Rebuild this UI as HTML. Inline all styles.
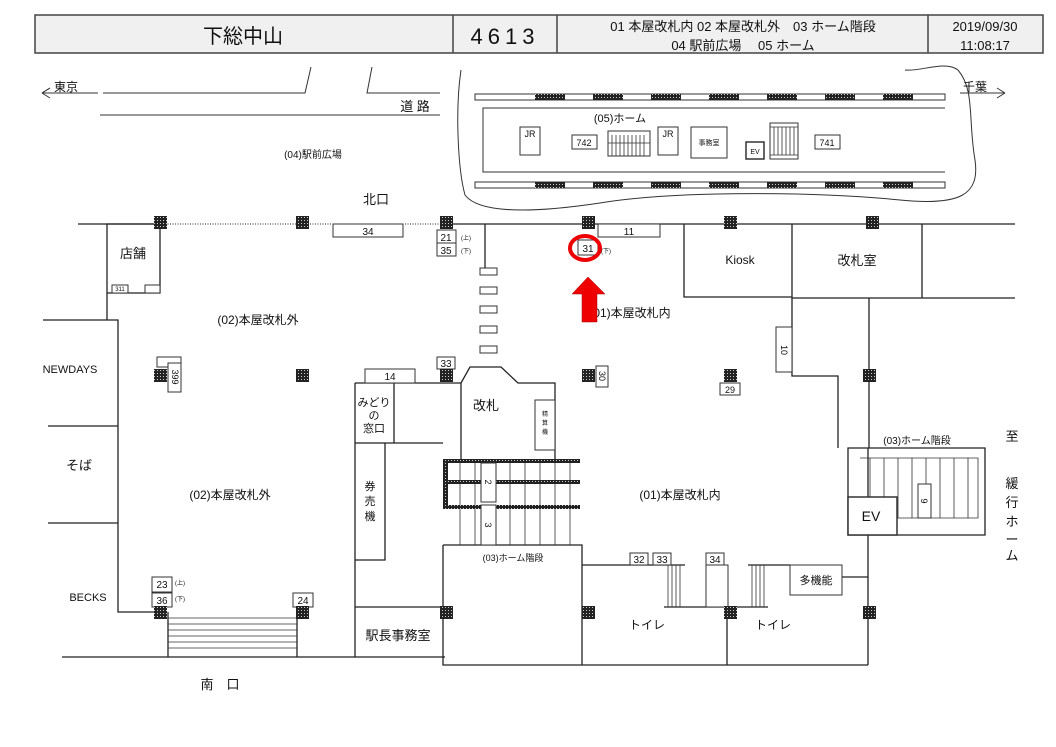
<!DOCTYPE html>
<html><head><meta charset="utf-8"><style>
body{margin:0;background:#fff}
svg{display:block;font-family:"Liberation Sans","Noto Sans CJK JP",sans-serif}
</style></head><body>
<svg width="1056" height="747" viewBox="0 0 1056 747" xmlns="http://www.w3.org/2000/svg">
<defs>
<pattern id="h" width="3" height="3" patternUnits="userSpaceOnUse"><rect width="3" height="3" fill="#222"/><rect x="1" y="1" width="1" height="1" fill="#ccc"/></pattern>
</defs>
<!-- header -->
<rect x="35" y="15" width="1008" height="38" fill="#f0f0f0" stroke="#444" stroke-width="1.5"/>
<g stroke="#444" stroke-width="1.5"><line x1="453" y1="15" x2="453" y2="53"/><line x1="557" y1="15" x2="557" y2="53"/><line x1="928" y1="15" x2="928" y2="53"/></g>
<g fill="#111">
<text x="243" y="43" font-size="20" text-anchor="middle">下総中山</text>
<text x="505" y="44" font-size="22" text-anchor="middle" letter-spacing="5">4613</text>
<text x="743" y="31" font-size="13" text-anchor="middle">01 本屋改札内 02 本屋改札外　03 ホーム階段</text>
<text x="743" y="50" font-size="13" text-anchor="middle">04 駅前広場　  05 ホーム</text>
<text x="985" y="31" font-size="13" text-anchor="middle">2019/09/30</text>
<text x="985" y="50" font-size="13" text-anchor="middle">11:08:17</text>
</g>
<g stroke="#333" stroke-width="1" fill="none">
<!-- roads -->
<polyline points="42,93 50,88 M42,93 50,98"/>
<path d="M42,93 L50,88 M42,93 L50,98 M42,93 L98,93"/>
<path d="M103,93 H305 L311,67 M372,67 L367,93 H440 M100,115 H440"/>
<path d="M960,93 H1005 M1005,93 L997,88 M1005,93 L997,98"/>
<!-- cloud -->
<path d="M461,70 C455,110 458,170 465,195 C480,215 540,212 600,203 C680,190 820,192 900,200 C960,206 980,195 975,160 C968,120 975,90 958,70 C945,60 920,72 905,70"/>
<!-- platform -->
<rect x="475" y="94" width="470" height="6"/><rect x="475" y="182" width="470" height="6"/>
<path d="M945,108 H483 V172 H945"/>
</g>
<g fill="url(#h)">
<rect x="535" y="94" width="30" height="6"/><rect x="593" y="94" width="30" height="6"/><rect x="651" y="94" width="30" height="6"/><rect x="709" y="94" width="30" height="6"/><rect x="767" y="94" width="30" height="6"/><rect x="825" y="94" width="30" height="6"/><rect x="883" y="94" width="30" height="6"/>
<rect x="535" y="182" width="30" height="6"/><rect x="593" y="182" width="30" height="6"/><rect x="651" y="182" width="30" height="6"/><rect x="709" y="182" width="30" height="6"/><rect x="767" y="182" width="30" height="6"/><rect x="825" y="182" width="30" height="6"/><rect x="883" y="182" width="30" height="6"/>
</g>
<g stroke="#333" fill="#fff" stroke-width="1">
<rect x="520" y="127" width="20" height="28"/><rect x="658" y="127" width="20" height="28"/>
<rect x="572" y="135" width="25" height="14"/><rect x="815" y="135" width="25" height="14"/>
<rect x="608" y="131" width="42" height="25"/>
<rect x="691" y="127" width="36" height="31"/>
<rect x="746" y="142" width="18" height="17" stroke-width="1.5"/>
<rect x="770" y="123" width="28" height="36"/>
</g>
<g stroke="#333" stroke-width="0.8"><path d="M612,135 V156 M616,135 V156 M620,135 V156 M624,135 V156 M628,135 V156 M632,135 V156 M636,135 V156 M640,135 V156 M644,135 V156 M608,143 H650 M774,127 V155 M778,127 V155 M782,127 V155 M786,127 V155 M790,127 V155 M794,127 V155 M770,127 H798 M770,155 H798"/></g>
<g font-size="9" fill="#111" text-anchor="middle">
<text x="530" y="137">JR</text><text x="668" y="137">JR</text>
<text x="584" y="146">742</text><text x="827" y="146">741</text>
<text x="709" y="145" font-size="7">事務室</text><text x="755" y="154" font-size="7">EV</text>
<text x="620" y="122" font-size="11">(05)ホーム</text>
<text x="415" y="111" font-size="13">道 路</text>
<text x="66" y="91" font-size="12">東京</text><text x="975" y="91" font-size="12">千葉</text>
<text x="313" y="158" font-size="10">(04)駅前広場</text>
<text x="376" y="204" font-size="13">北口</text>
</g>
<!-- main walls -->
<g stroke="#222" stroke-width="1.3" fill="none">
<path d="M78,224 H160 M443,224 H1015"/>
<path d="M160,224 H443" stroke-dasharray="1,1.5" stroke-width="1"/>
<path d="M107,224 V320 M107,224 H160 V293 H107 M43,320 H118 V612 H160 M48,426 H118 M48,523 H118"/>
<path d="M62,657 H445"/>
<path d="M168,612 V657 M297,612 V657"/>
<path d="M355,383 V657 M355,383 H461 M394,383 V443 M355,443 H443 M385,443 V560 H355 M355,607 H443"/>
<path d="M461,460 V383 L470,367 H501 L518,383 H555 V460"/>
<path d="M443,545 H582 V665 H443 V545 M443,665 H868 M727,590 V665 M868,665 V448"/>
<path d="M582,565 H685 M748,565 H790 M664,607 H768"/>
<path d="M684,224 V297 H792 M792,224 V298 H922 V224 M922,298 H1015"/>
<path d="M792,298 V376 H838 V448 M869,298 V448"/>
<path d="M848,448 H985 V535 H848 Z M842,577 H868"/>
<path d="M485,224 V268"/>
</g>
<g stroke="#333" stroke-width="0.8" fill="none">
<path d="M168,618 H297 M168,624 H297 M168,630 H297 M168,636 H297 M168,642 H297 M168,648 H297"/>
<path d="M460,463 V545 M475,463 V545 M510,463 V545 M525,463 V545 M540,463 V545 M555,463 V545 M570,463 V545"/>
<path d="M668,565 V607 M672,565 V607 M676,565 V607 M680,565 V607 M752,565 V607 M756,565 V607 M760,565 V607 M764,565 V607"/>
<path d="M860,458 H978 V518 H897 M870,458 V497 M884,458 V497 M898,458 V518 M912,458 V518 M926,458 V518 M940,458 V518 M954,458 V518 M968,458 V518"/>
</g>
<g fill="url(#h)">
<rect x="443" y="459" width="137" height="4"/><rect x="443" y="480" width="137" height="4"/><rect x="443" y="505" width="137" height="4"/><rect x="443" y="459" width="5" height="50"/>
</g>
<!-- boxes -->
<g stroke="#333" fill="#fff" stroke-width="1">
<rect x="333" y="224" width="70" height="13"/><rect x="598" y="224" width="62" height="13"/>
<rect x="437" y="230" width="19" height="13"/><rect x="437" y="243" width="19" height="13"/>
<rect x="578" y="240" width="20" height="15"/>
<rect x="112" y="285" width="16" height="8"/><rect x="145" y="285" width="15" height="8"/>
<rect x="157" y="357" width="24" height="10"/><rect x="168" y="363" width="13" height="29"/>
<rect x="365" y="369" width="50" height="14"/><rect x="437" y="357" width="18" height="12"/>
<rect x="596" y="366" width="12" height="21"/><rect x="720" y="383" width="20" height="12"/>
<rect x="776" y="327" width="16" height="45"/>
<rect x="535" y="400" width="20" height="50"/>
<rect x="481" y="463" width="15" height="39"/><rect x="481" y="505" width="15" height="40"/>
<rect x="152" y="577" width="20" height="15"/><rect x="152" y="593" width="20" height="14"/><rect x="293" y="593" width="20" height="14"/>
<rect x="630" y="553" width="18" height="12"/><rect x="653" y="553" width="18" height="12"/><rect x="706" y="553" width="18" height="12"/>
<rect x="706" y="565" width="22" height="42"/>
<rect x="790" y="565" width="52" height="30"/>
<rect x="848" y="497" width="49" height="38" stroke-width="1.5"/>
<rect x="918" y="484" width="13" height="34"/>
<rect x="480" y="268" width="17" height="7"/><rect x="480" y="287" width="17" height="7"/><rect x="480" y="306" width="17" height="7"/><rect x="480" y="326" width="17" height="7"/><rect x="480" y="346" width="17" height="7"/>
</g>
<!-- pillars -->
<g fill="url(#h)">
<rect x="154" y="216" width="13" height="13"/><rect x="296" y="216" width="13" height="13"/><rect x="440" y="216" width="13" height="13"/><rect x="582" y="216" width="13" height="13"/><rect x="724" y="216" width="13" height="13"/><rect x="866" y="216" width="13" height="13"/>
<rect x="154" y="369" width="13" height="13"/><rect x="296" y="369" width="13" height="13"/><rect x="440" y="369" width="13" height="13"/><rect x="582" y="369" width="13" height="13"/><rect x="724" y="369" width="13" height="13"/><rect x="863" y="369" width="13" height="13"/>
<rect x="154" y="606" width="13" height="13"/><rect x="296" y="606" width="13" height="13"/><rect x="440" y="606" width="13" height="13"/><rect x="582" y="606" width="13" height="13"/><rect x="724" y="606" width="13" height="13"/><rect x="863" y="606" width="13" height="13"/>
</g>
<!-- labels -->
<g fill="#111" text-anchor="middle" font-size="11">
<text x="368" y="235" font-size="10">34</text><text x="629" y="235" font-size="10">11</text>
<text x="446" y="241" font-size="10">21</text><text x="446" y="254" font-size="10">35</text>
<text x="466" y="240" font-size="6">(上)</text><text x="466" y="253" font-size="6">(下)</text>
<text x="588" y="252" font-size="10">31</text><text x="606" y="253" font-size="6">(下)</text>
<text x="120" y="291" font-size="6">311</text>
<text x="133" y="258" font-size="13">店舗</text>
<text x="258" y="324" font-size="12">(02)本屋改札外</text>
<text x="230" y="499" font-size="12">(02)本屋改札外</text>
<text x="70" y="373" font-size="11">NEWDAYS</text>
<text x="79" y="470" font-size="13">そば</text>
<text x="88" y="601" font-size="11">BECKS</text>
<text x="162" y="588" font-size="10">23</text><text x="162" y="604" font-size="10">36</text><text x="303" y="604" font-size="10">24</text>
<text x="180" y="585" font-size="6">(上)</text><text x="180" y="601" font-size="6">(下)</text>
<text x="390" y="380" font-size="10">14</text><text x="446" y="367" font-size="10">33</text>
<text x="374" y="406" font-size="11">みどり</text><text x="374" y="419" font-size="11">の</text><text x="374" y="432" font-size="11">窓口</text>
<text x="370" y="490" font-size="11">券</text><text x="370" y="505" font-size="11">売</text><text x="370" y="520" font-size="11">機</text>
<text x="486" y="410" font-size="13">改札</text>
<text x="545" y="416" font-size="6">精</text><text x="545" y="425" font-size="6">算</text><text x="545" y="434" font-size="6">機</text>
<text x="398" y="640" font-size="13">駅長事務室</text>
<text x="513" y="561" font-size="9">(03)ホーム階段</text>
<text x="680" y="499" font-size="12">(01)本屋改札内</text>
<text x="630" y="317" font-size="12">(01)本屋改札内</text>
<text x="639" y="563" font-size="10">32</text><text x="662" y="563" font-size="10">33</text><text x="715" y="563" font-size="10">34</text>
<text x="816" y="584" font-size="11">多機能</text>
<text x="647" y="629" font-size="12">トイレ</text><text x="773" y="629" font-size="12">トイレ</text>
<text x="871" y="521" font-size="14">EV</text>
<text x="917" y="444" font-size="10">(03)ホーム階段</text>
<text x="740" y="264" font-size="12">Kiosk</text><text x="857" y="265" font-size="13">改札室</text>
<text x="730" y="393" font-size="9">29</text>
<text x="1012" y="441" font-size="13">至</text>
<text x="1012" y="488" font-size="13">緩</text><text x="1012" y="507" font-size="13">行</text><text x="1012" y="526" font-size="13">ホ</text><text x="1012" y="544" font-size="13">ー</text><text x="1012" y="560" font-size="13">ム</text>
<text x="220" y="689" font-size="13">南　口</text>
</g>
<g fill="#111" font-size="9" text-anchor="middle">
<text transform="translate(175,377) rotate(90)" y="3">399</text>
<text transform="translate(602,376) rotate(90)" y="3">30</text>
<text transform="translate(784,350) rotate(90)" y="3">10</text>
<text transform="translate(488,482) rotate(90)" y="3">2</text>
<text transform="translate(488,525) rotate(90)" y="3">3</text>
<text transform="translate(924,501) rotate(90)" y="3">9</text>
</g>
<!-- red marks -->
<ellipse cx="585" cy="248" rx="15" ry="12" fill="none" stroke="#e00" stroke-width="4"/>
<polygon points="588,277 572,294 582,294 582,322 597,322 597,294 605,294" fill="#e00" stroke="#a00" stroke-width="0.5"/>
</svg>
</body></html>
